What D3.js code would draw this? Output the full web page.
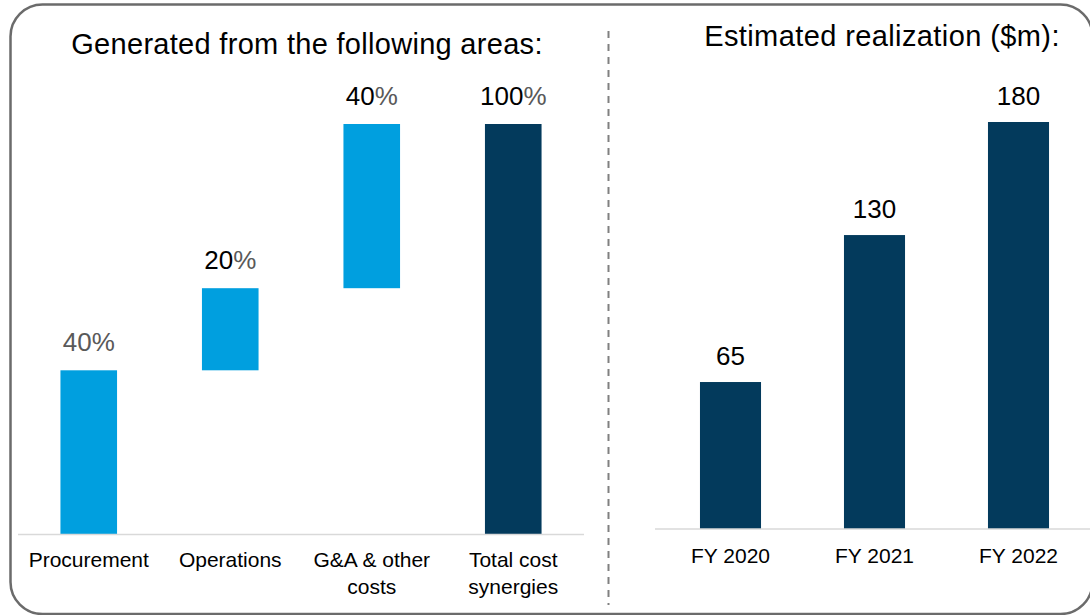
<!DOCTYPE html>
<html>
<head>
<meta charset="utf-8">
<script src="https://cdn.jsdelivr.net/npm/d3@7/dist/d3.min.js"></script>
<style>
  html, body { margin: 0; padding: 0; background: #ffffff; }
  svg { display: block; font-family: "Liberation Sans", Arial, sans-serif; }
</style>
</head>
<body>
<svg id="chart" width="1090" height="615"></svg>
<script>
// ---- data ----
const areaCategories = [["Procurement"], ["Operations"], ["G&A & other", "costs"], ["Total cost", "synergies"]];
const areaValues = [40, 20, 40, 100];
const areaIsTotal = [false, false, false, true];
const areaLabels = ["40", "20", "40", "100"];
const yearCategories = ["FY 2020", "FY 2021", "FY 2022"];
const yearValues = [65, 130, 180];
const leftTitle = "Generated from the following areas:";
const rightTitle = "Estimated realization ($m):";

const LIGHT = "#009FDF", NAVY = "#033A5C", GREY = "#595959", AXIS = "#D9D9D9";

const svg = d3.select("#chart");

// frame
svg.append("rect")
  .attr("x", 10.5).attr("y", 4.5).attr("width", 1082).attr("height", 609.5)
  .attr("rx", 32).attr("ry", 32)
  .attr("fill", "none").attr("stroke", "#6b6b6b").attr("stroke-width", 2.5);

// divider
svg.append("line")
  .attr("x1", 608.5).attr("x2", 608.5).attr("y1", 31).attr("y2", 605)
  .attr("stroke", "#808080").attr("stroke-width", 2).attr("stroke-dasharray", "7,6");

// ---- left waterfall ----
const xL = d3.scaleBand().domain(d3.range(areaValues.length)).range([18, 584]).paddingInner(0.6).paddingOuter(0.3);
const yL = d3.scaleLinear().domain([0, 100]).range([534.5, 124]);

let cum = 0;
const wf = areaValues.map((v, i) => {
  let lo, hi;
  if (areaIsTotal[i]) { lo = 0; hi = v; }
  else { lo = cum; hi = cum + v; cum += v; }
  return { i, v, lo, hi, total: areaIsTotal[i] };
});

const gL = svg.append("g");
gL.selectAll("rect.bar").data(wf).join("rect")
  .attr("class", "bar")
  .attr("x", d => xL(d.i))
  .attr("width", xL.bandwidth())
  .attr("y", d => yL(d.hi))
  .attr("height", d => yL(d.lo) - yL(d.hi))
  .attr("fill", d => d.total ? NAVY : LIGHT);

gL.append("line").attr("x1", 18).attr("x2", 584).attr("y1", 534.5).attr("y2", 534.5)
  .attr("stroke", AXIS).attr("stroke-width", 1.5);

const lbl = gL.selectAll("text.val").data(wf).join("text")
  .attr("class", "val")
  .attr("x", d => xL(d.i) + xL.bandwidth() / 2)
  .attr("y", d => yL(d.hi) - 19)
  .attr("text-anchor", "middle")
  .attr("font-size", 26);
lbl.append("tspan").text(d => areaLabels[d.i]).attr("fill", d => d.i === 0 ? GREY : "#000");
lbl.append("tspan").text("%").attr("fill", GREY);

gL.selectAll("text.cat").data(areaCategories).join("text")
  .attr("class", "cat")
  .attr("text-anchor", "middle")
  .attr("font-size", 21)
  .attr("fill", "#000")
  .each(function(lines, i) {
    const t = d3.select(this);
    lines.forEach((ln, k) => {
      t.append("tspan").attr("x", xL(i) + xL.bandwidth() / 2).attr("y", 567 + k * 26.5).text(ln);
    });
  });

svg.append("text").attr("x", 307).attr("y", 54).attr("text-anchor", "middle")
  .attr("font-size", 29).attr("letter-spacing", 0.3).attr("fill", "#000").text(leftTitle);

// ---- right bars ----
const xR = d3.scaleBand().domain(yearCategories).range([658.5, 1090.5]).paddingInner(0.576).paddingOuter(0.288);
const yR = d3.scaleLinear().domain([0, 180]).range([529, 122]);

const gR = svg.append("g");
gR.selectAll("rect").data(yearValues).join("rect")
  .attr("x", (d, i) => xR(yearCategories[i]))
  .attr("width", xR.bandwidth())
  .attr("y", d => yR(d))
  .attr("height", d => yR(0) - yR(d))
  .attr("fill", NAVY);

gR.append("line").attr("x1", 655).attr("x2", 1090).attr("y1", 529).attr("y2", 529)
  .attr("stroke", AXIS).attr("stroke-width", 1.5);

gR.selectAll("text.val").data(yearValues).join("text")
  .attr("class", "val")
  .attr("x", (d, i) => xR(yearCategories[i]) + xR.bandwidth() / 2)
  .attr("y", d => yR(d) - 17)
  .attr("text-anchor", "middle").attr("font-size", 26).attr("fill", "#000")
  .text(d => d);

gR.selectAll("text.cat").data(yearCategories).join("text")
  .attr("class", "cat")
  .attr("x", d => xR(d) + xR.bandwidth() / 2)
  .attr("y", 563)
  .attr("text-anchor", "middle").attr("font-size", 21).attr("fill", "#000")
  .text(d => d);

svg.append("text").attr("x", 882).attr("y", 46).attr("text-anchor", "middle")
  .attr("font-size", 29).attr("letter-spacing", 0.4).attr("fill", "#000").text(rightTitle);
</script>
</body>
</html>
